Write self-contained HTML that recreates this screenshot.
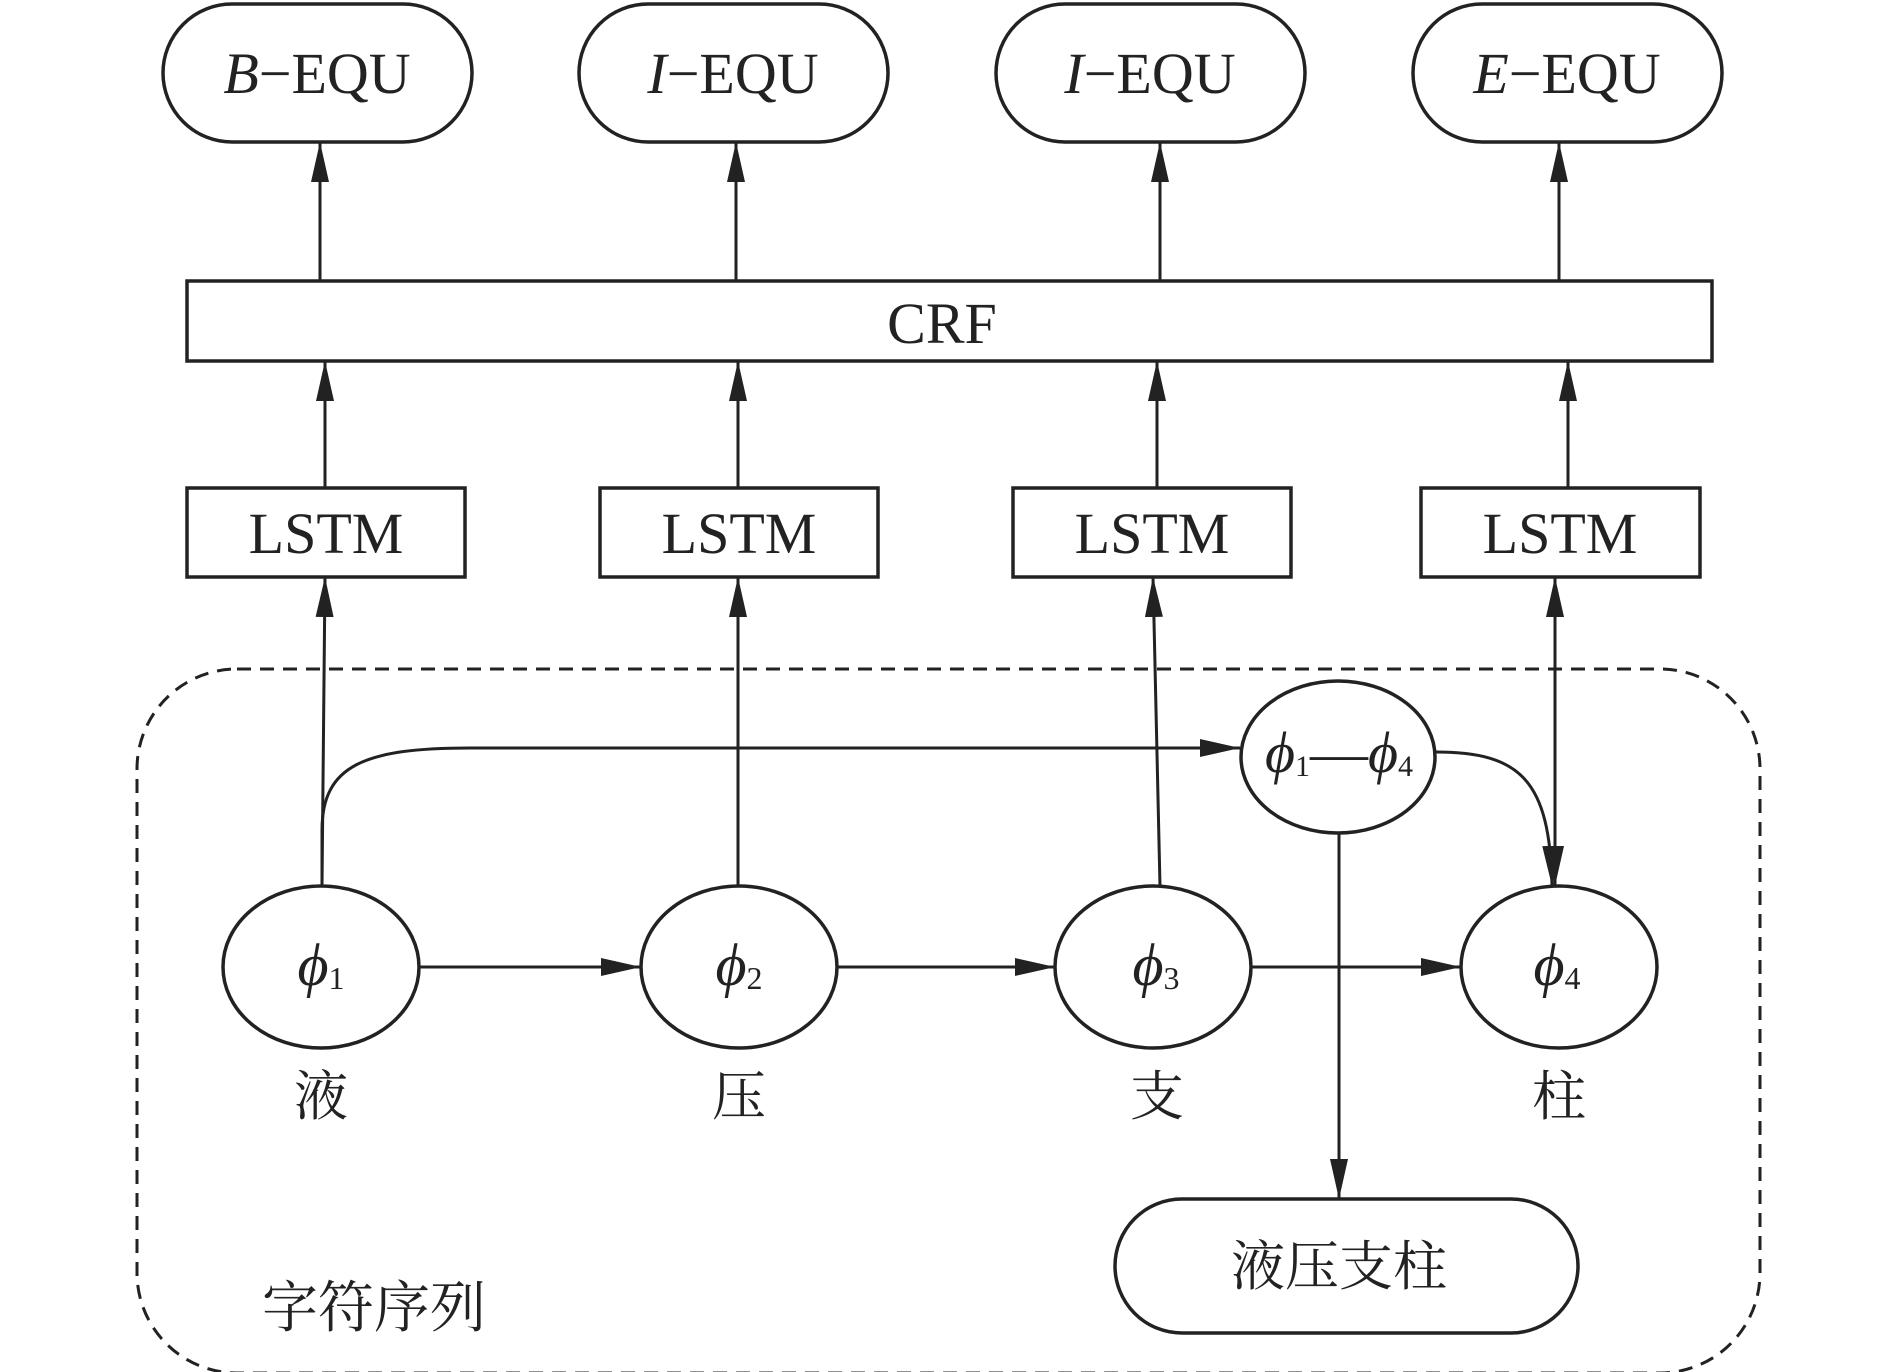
<!DOCTYPE html>
<html><head><meta charset="utf-8"><style>html,body{margin:0;padding:0;background:#fff}svg{display:block}</style></head>
<body>
<svg width="1890" height="1372" viewBox="0 0 1890 1372" xmlns="http://www.w3.org/2000/svg">
<defs>
<marker id="a" viewBox="0 0 40 18" refX="40" refY="9" markerWidth="40" markerHeight="18" markerUnits="userSpaceOnUse" orient="auto">
<path d="M0,0 L40,9 L0,18 Z" fill="#222"/></marker>
</defs>
<g fill="none" stroke="#222" stroke-width="3.5">
<rect x="163" y="4" width="309" height="138" rx="69"/>
<rect x="579" y="4" width="309" height="138" rx="69"/>
<rect x="996" y="4" width="309" height="138" rx="69"/>
<rect x="1413" y="4" width="309" height="138" rx="69"/>
<rect x="187" y="281" width="1525" height="80"/>
<rect x="187" y="488" width="278" height="89"/>
<rect x="600" y="488" width="278" height="89"/>
<rect x="1013" y="488" width="278" height="89"/>
<rect x="1421" y="488" width="279" height="89"/>
<rect x="137" y="669" width="1623" height="704" rx="100" stroke-dasharray="14,9" stroke-width="3"/>
<ellipse cx="321" cy="967" rx="98" ry="81"/>
<ellipse cx="739" cy="967" rx="98" ry="81"/>
<ellipse cx="1153" cy="967" rx="98" ry="81"/>
<ellipse cx="1559" cy="967" rx="98" ry="81"/>
<ellipse cx="1338" cy="757" rx="97" ry="76"/>
<rect x="1115" y="1199" width="463" height="134" rx="67"/>
</g>
<g fill="none" stroke="#222" stroke-width="3" marker-end="url(#a)">
<line x1="320" y1="281" x2="320" y2="142"/>
<line x1="736" y1="281" x2="736" y2="142"/>
<line x1="1160" y1="281" x2="1160" y2="142"/>
<line x1="1559" y1="281" x2="1559" y2="142"/>
<line x1="325" y1="488" x2="325" y2="361"/>
<line x1="738" y1="488" x2="738" y2="361"/>
<line x1="1157" y1="488" x2="1157" y2="361"/>
<line x1="1568" y1="488" x2="1568" y2="361"/>
<line x1="322" y1="886" x2="325" y2="577"/>
<line x1="738" y1="886" x2="738" y2="577"/>
<line x1="1160" y1="886" x2="1153" y2="577"/>
<line x1="1555" y1="700" x2="1555" y2="577"/>
<line x1="1555" y1="700" x2="1555" y2="886"/>
<path d="M322,884 L322,830 C322,765 365,748 470,748 L1240,748"/>
<path d="M1436,752 C1520,752 1550,780 1552,886"/>
<line x1="1339" y1="832" x2="1339" y2="1199"/>
<line x1="419" y1="967" x2="641" y2="967"/>
<line x1="837" y1="967" x2="1055" y2="967"/>
<line x1="1251" y1="967" x2="1461" y2="967"/>
</g>
<g font-family="Liberation Serif, serif" font-size="58" fill="#222" text-anchor="middle">
<text x="317" y="93"><tspan font-style="italic">B</tspan>−EQU</text>
<text x="733" y="93"><tspan font-style="italic">I</tspan>−EQU</text>
<text x="1150" y="93"><tspan font-style="italic">I</tspan>−EQU</text>
<text x="1567" y="93"><tspan font-style="italic">E</tspan>−EQU</text>
<text x="942" y="343">CRF</text>
<text x="326" y="553">LSTM</text>
<text x="739" y="553">LSTM</text>
<text x="1152" y="553">LSTM</text>
<text x="1560" y="553">LSTM</text>
</g>
<g font-family="Liberation Serif, serif" fill="#222" text-anchor="middle">
<text x="321" y="985" font-size="60"><tspan font-style="italic">ϕ</tspan><tspan font-size="32" dy="4">1</tspan></text>
<text x="739" y="985" font-size="60"><tspan font-style="italic">ϕ</tspan><tspan font-size="32" dy="4">2</tspan></text>
<text x="1156" y="985" font-size="60"><tspan font-style="italic">ϕ</tspan><tspan font-size="32" dy="4">3</tspan></text>
<text x="1557" y="985" font-size="60"><tspan font-style="italic">ϕ</tspan><tspan font-size="32" dy="4">4</tspan></text>
<text x="1339" y="772" font-size="58"><tspan font-style="italic">ϕ</tspan><tspan font-size="30" dy="4">1</tspan><tspan dy="-4">—</tspan><tspan font-style="italic">ϕ</tspan><tspan font-size="30" dy="4">4</tspan></text>
</g>
<g font-family="Liberation Serif, 'Noto Serif CJK SC', serif" font-size="54" fill="#222" text-anchor="middle">
<text x="321" y="1115">液</text>
<text x="739" y="1115">压</text>
<text x="1157" y="1115">支</text>
<text x="1559" y="1115">柱</text>
<text x="1339" y="1285">液压支柱</text>
<text x="374" y="1327" font-size="56">字符序列</text>
</g>
</svg>
</body></html>
